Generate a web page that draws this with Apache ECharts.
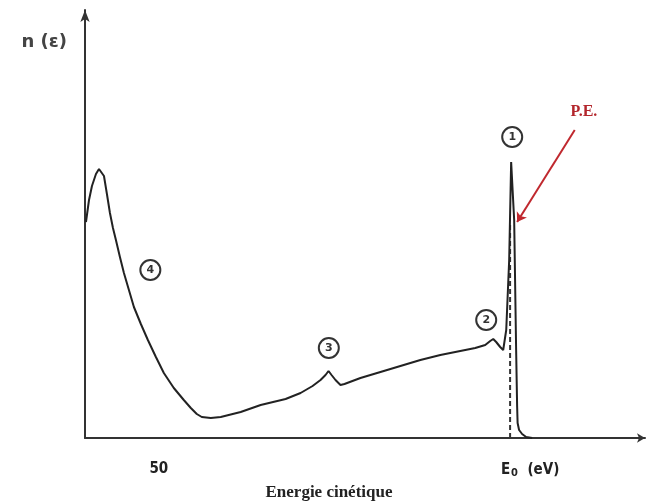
<!DOCTYPE html>
<html>
<head>
<meta charset="utf-8">
<script src="https://cdn.jsdelivr.net/npm/echarts@6/dist/echarts.min.js"></script>
<style>html,body{margin:0;padding:0;background:#fff}#c{width:649px;height:501px}</style>
</head>
<body>
<div id="c"></div>
<script>
// Kinetic energy (eV) and electron count n(E) (arbitrary units)
const energies = [
  39.64, 40.07, 40.49, 41.06, 41.49, 41.77, 42.20, 42.62, 43.05, 43.48,
  43.90, 44.47, 45.04, 45.75, 46.46, 47.45, 48.45, 49.59, 50.72, 52.14,
  53.56, 54.56, 55.41, 56.12, 57.40, 58.82, 61.66, 64.50, 68.05, 70.18,
  71.89, 73.02, 73.73, 74.16, 74.59, 75.15, 75.86, 76.43, 78.70, 81.55,
  84.39, 87.23, 90.07, 92.91, 95.04, 96.46, 97.17, 97.60, 98.02, 98.59,
  99.02, 99.45, 99.87, 100.15, 100.43, 100.58, 100.86, 101.00, 101.07, 101.28,
  101.71, 102.28, 103.14
];
const intensities = [
  54.0, 59.5, 63.0, 66.0, 67.25, 67.75, 65.5, 61.0, 56.25, 52.5,
  49.5, 45.25, 41.25, 37.0, 32.75, 28.5, 24.5, 20.25, 16.25, 12.5,
  9.5, 7.5, 6.0, 5.25, 5.0, 5.25, 6.5, 8.25, 9.75, 11.25,
  13.0, 14.5, 15.75, 16.75, 15.75, 14.5, 13.25, 13.5, 15.0, 16.5,
  18.0, 19.5, 20.75, 21.75, 22.5, 23.25, 24.25, 24.75, 24.0, 22.75,
  22.0, 27.0, 44.5, 69.0, 69.5, 54.5, 22.0, 8.0, 3.75, 2.0,
  1.0, 0.25, 0
];
const E0 = 100;
const peHeight = 53.5;
const tickValues = [50, E0];
const tickLabels = ['50', 'E0'];
const regionNames = ['1','2','3','4'];
const regionX = [100.3, 96.6, 74.2, 48.8];
const regionY = [75.25, 29.5, 22.5, 42.0];
const peLabelPos = [110.5, 81.5];
const peArrowFrom = [109.2, 77.0];
const peArrowTo = [101.0, 54.0];

const curve = energies.map((e, i) => [e, intensities[i]]);
const chart = echarts.init(document.getElementById('c'), null, {renderer: 'canvas'});
chart.setOption({
  backgroundColor: '#fff',
  animation: false,
  grid: {left: 85, right: 4, top: 10, bottom: 63, containLabel: false, outerBoundsMode: 'none'},
  xAxis: {
    type: 'value', min: 39.5, max: 119.2,
    name: 'Energie cinétique', nameLocation: 'middle', nameGap: 34,
    nameTextStyle: {fontFamily: 'Liberation Serif', fontWeight: 'bold', fontSize: 17, color: '#222', padding: [0, 72, 0, 0]},
    axisLine: {show: true, symbol: ['none', 'arrow'], symbolSize: [7, 8], lineStyle: {color: '#333', width: 2}},
    axisTick: {show: false},
    splitLine: {show: false},
    axisLabel: {
      customValues: tickValues, margin: 24,
      formatter: function (v) {
        const lab = tickLabels[tickValues.indexOf(v)];
        if (lab === 'E0') return '{p|}{e|E}{s|0}{e|  (eV)}';
        return '{e|' + lab + '}';
      },
      rich: {
        p: {width: 40},
        e: {fontFamily: 'DejaVu Sans Condensed', fontWeight: 'bold', fontSize: 15, color: '#222'},
        s: {fontFamily: 'DejaVu Sans Condensed', fontWeight: 'bold', fontSize: 11, color: '#222', verticalAlign: 'bottom', padding: [6, 0, 0, 1]}
      }
    }
  },
  yAxis: {
    type: 'value', min: 0, max: 107,
    name: 'n (ε)', nameLocation: 'end', nameGap: -41,
    nameTextStyle: {fontFamily: 'DejaVu Sans', fontWeight: 'bold', fontSize: 18, color: '#444', align: 'right', padding: [0, 18, 0, 0]},
    axisLine: {show: true, symbol: ['none', 'arrow'], symbolSize: [7, 12], lineStyle: {color: '#333', width: 2}},
    axisTick: {show: false}, axisLabel: {show: false}, splitLine: {show: false}
  },
  series: [
    {
      type: 'line', data: curve, showSymbol: false, smooth: false,
      lineStyle: {color: '#222', width: 2}, z: 3,
      markPoint: {
        symbol: 'circle', symbolSize: 20,
        itemStyle: {color: '#fff', borderColor: '#333', borderWidth: 2},
        label: {show: true, position: 'inside', color: '#333', fontSize: 11, fontWeight: 'bold', fontFamily: 'DejaVu Sans', formatter: p => p.name},
        data: regionNames.map((n, i) => ({name: n, coord: [regionX[i], regionY[i]]})).concat([
          {name: 'P.E.', coord: peLabelPos, symbolSize: 1, itemStyle: {color: 'rgba(0,0,0,0)', borderWidth: 0},
           label: {color: '#b3262c', fontFamily: 'Liberation Serif', fontWeight: 'bold', fontSize: 16}}
        ])
      },
      markLine: {
        silent: true, symbol: ['none', 'arrow'], symbolSize: 9,
        lineStyle: {color: '#c0282e', width: 2, type: 'solid'},
        label: {show: false},
        data: [[{coord: peArrowFrom}, {coord: peArrowTo}]]
      }
    },
    {
      type: 'line', data: [[E0, 0], [E0, peHeight]], showSymbol: false,
      lineStyle: {color: '#333', width: 2, type: [5, 3]}, z: 2
    }
  ]
});
</script>
</body>
</html>
